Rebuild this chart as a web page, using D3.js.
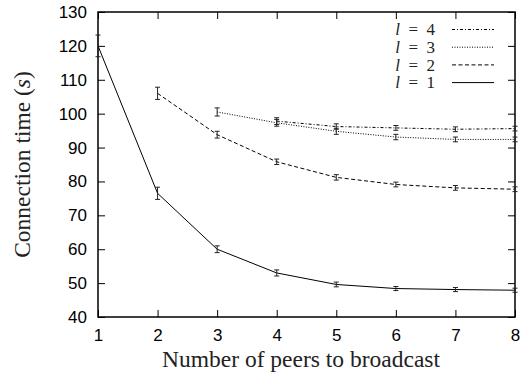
<!DOCTYPE html>
<html>
<head>
<meta charset="utf-8">
<script src="https://cdn.jsdelivr.net/npm/d3@7"></script>
<style>
  body { margin: 0; background: #fff; }
</style>
</head>
<body>
<svg width="531" height="377"></svg>
<script>
var svg = d3.select("svg"),
    margin = {top: 12, right: 16, bottom: 60, left: 98},
    width = 531 - margin.left - margin.right,
    height = 377 - margin.top - margin.bottom,
    g = svg.append("g").attr("transform", "translate(" + margin.left + "," + margin.top + ")");

var sans = "'Liberation Sans', Arial, Helvetica, sans-serif",
    serif = "'Liberation Serif', 'Times New Roman', Times, serif";

// data
var peers = [1, 2, 3, 4, 5, 6, 7, 8];
var l1 = [120, 76.5, 60, 53, 49.6, 48.4, 48.1, 47.9];
var l2 = [null, 106, 93.8, 85.8, 81.2, 79.1, 78.1, 77.7];
var l3 = [null, null, 100.5, 97.3, 94.8, 93.1, 92.4, 92.4];
var l4 = [null, null, null, 97.8, 96.2, 95.8, 95.4, 95.6];
var e1 = [3.2, 1.8, 1.0, 0.9, 0.7, 0.6, 0.6, 0.6];
var e2 = [0, 1.8, 1.0, 0.8, 0.8, 0.7, 0.7, 0.7];
var e3 = [0, 0, 1.2, 1.0, 0.9, 0.8, 0.7, 0.7];
var e4 = [0, 0, 0, 1.0, 0.8, 0.7, 0.7, 0.7];
var yTicks = [40, 50, 60, 70, 80, 90, 100, 110, 120, 130];

var series = [
  {name: "4", vals: l4, err: e4, dash: "3,2,1,2"},
  {name: "3", vals: l3, err: e3, dash: "1,1.5"},
  {name: "2", vals: l2, err: e2, dash: "4,2.5"},
  {name: "1", vals: l1, err: e1, dash: null}
];

var x = d3.scaleLinear().domain([1, 8]).range([0, width]);
var y = d3.scaleLinear().domain([40, 130]).range([height, 0]);

// axes, ticks inward and mirrored
g.append("g")
    .attr("transform", "translate(0," + height + ")")
    .call(d3.axisBottom(x).tickValues(peers).tickFormat(d3.format("d")).tickSizeInner(-7).tickSizeOuter(0).tickPadding(12));
g.append("g")
    .call(d3.axisTop(x).tickValues(peers).tickFormat("").tickSizeInner(-7).tickSizeOuter(0));
g.append("g")
    .call(d3.axisLeft(y).tickValues(yTicks).tickSizeInner(-7).tickSizeOuter(0).tickPadding(11));
g.append("g")
    .attr("transform", "translate(" + width + ",0)")
    .call(d3.axisRight(y).tickValues(yTicks).tickFormat("").tickSizeInner(-7).tickSizeOuter(0));

g.selectAll(".domain").remove();
g.selectAll(".tick line").attr("stroke", "#000").attr("stroke-width", 1);
g.selectAll(".tick text")
    .attr("fill", "#000")
    .style("font-family", sans)
    .style("font-size", "17px");

g.append("rect")
    .attr("width", width)
    .attr("height", height)
    .attr("fill", "none")
    .attr("stroke", "#000")
    .attr("stroke-width", 1.5);

var line = d3.line()
    .defined(function(d) { return d[1] != null; })
    .x(function(d) { return x(d[0]); })
    .y(function(d) { return y(d[1]); });

series.forEach(function(s) {
  var pts = peers.map(function(p, i) { return [p, s.vals[i], s.err[i]]; });
  g.append("path")
      .datum(pts)
      .attr("fill", "none")
      .attr("stroke", "#000")
      .attr("stroke-width", 1)
      .attr("stroke-dasharray", s.dash)
      .attr("d", line);

  var eb = g.append("g").selectAll("g")
    .data(pts.filter(function(d) { return d[1] != null; }))
    .enter().append("g")
      .attr("stroke", "#222")
      .attr("stroke-width", 1);
  eb.append("line")
      .attr("x1", function(d) { return x(d[0]); })
      .attr("x2", function(d) { return x(d[0]); })
      .attr("y1", function(d) { return y(d[1] - d[2]); })
      .attr("y2", function(d) { return y(d[1] + d[2]); });
  [-1, 1].forEach(function(sg) {
    eb.append("line")
        .attr("x1", function(d) { return x(d[0]) - 2.5; })
        .attr("x2", function(d) { return x(d[0]) + 2.5; })
        .attr("y1", function(d) { return y(d[1] + sg * d[2]); })
        .attr("y2", function(d) { return y(d[1] + sg * d[2]); });
  });
});

// legend
var legend = svg.append("g")
  .selectAll("g")
  .data(series)
  .enter().append("g")
    .attr("transform", function(d, i) { return "translate(0," + (29.5 + i * 17.7) + ")"; });

var lt = legend.append("text")
    .attr("x", 435)
    .attr("dy", "0.33em")
    .attr("text-anchor", "end")
    .attr("fill", "#222")
    .style("font-family", serif)
    .style("font-size", "17px");
lt.append("tspan").attr("font-style", "italic").text("l");
lt.append("tspan").text(function(d) { return "\u2002=\u2002" + d.name; });

legend.append("line")
    .attr("x1", 452)
    .attr("x2", 494)
    .attr("stroke", "#000")
    .attr("stroke-width", 1)
    .attr("stroke-dasharray", function(d) { return d.dash; });

// titles
svg.append("text")
    .attr("text-anchor", "middle")
    .attr("x", 301)
    .attr("y", 367)
    .attr("fill", "#222")
    .style("font-family", serif)
    .style("font-size", "23.5px")
    .text("Number of peers to broadcast");

var yt = svg.append("text")
    .attr("text-anchor", "middle")
    .attr("fill", "#222")
    .style("font-family", serif)
    .style("font-size", "23.5px")
    .attr("transform", "translate(30," + (margin.top + height / 2) + ")rotate(-90)");
yt.append("tspan").text("Connection time (");
yt.append("tspan").attr("font-style", "italic").text("s");
yt.append("tspan").text(")");
</script>
</body>
</html>
